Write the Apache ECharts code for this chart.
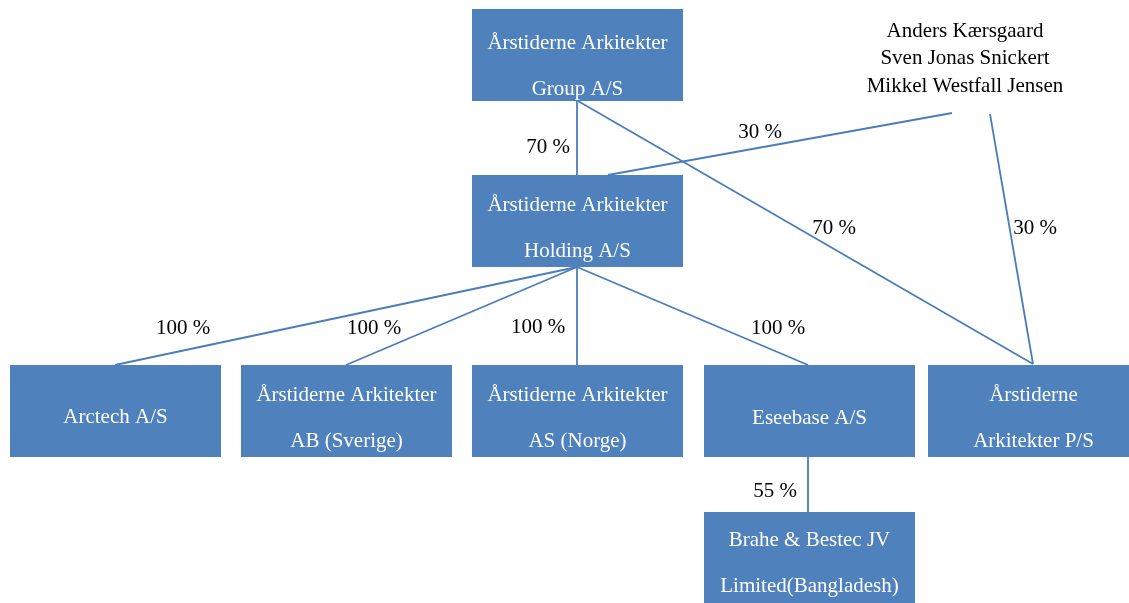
<!DOCTYPE html>
<html lang="da">
<head>
    <meta charset="UTF-8">
    <title>Årstiderne Arkitekter - koncernstruktur</title>
    <script src="https://cdn.jsdelivr.net/npm/echarts@6/dist/echarts.min.js"></script>
    <style>
        html, body { margin: 0; padding: 0; background: #fff; }
        #chart { width: 1129px; height: 603px; }
    </style>
</head>
<body>
<div id="chart"></div>
<script>
    // selskaber (en række pr. linje i boksen)
    const unitNames = [
        ['Årstiderne Arkitekter', 'Group A/S'],
        ['Årstiderne Arkitekter', 'Holding A/S'],
        ['Arctech A/S'],
        ['Årstiderne Arkitekter', 'AB (Sverige)'],
        ['Årstiderne Arkitekter', 'AS (Norge)'],
        ['Eseebase A/S'],
        ['Årstiderne', 'Arkitekter P/S'],
        ['Brahe & Bestec JV', 'Limited(Bangladesh)']
    ];
    const ownerNames = ['Anders Kærsgaard', 'Sven Jonas Snickert', 'Mikkel Westfall Jensen'];

    // ejerandele
    const stakeFrom = ['Group', 'Group', 'Owners', 'Owners', 'Holding', 'Holding', 'Holding', 'Holding', 'Eseebase'];
    const stakeTo = ['Holding', 'P/S', 'Holding', 'P/S', 'Arctech', 'AB', 'AS', 'Eseebase', 'Brahe'];
    const stakeLabels = ['70 %', '70 %', '30 %', '30 %', '100 %', '100 %', '100 %', '100 %', '55 %'];

    // layout (pixel-koordinater i det skjulte koordinatsystem)
    const boxW = 211, boxH = 92, lineGap = 46;
    const boxCx = [577.5, 577.5, 115.5, 346.5, 577.5, 809.5, 1033.5, 809.5];
    const boxCy = [55, 221, 411, 411, 411, 411, 411, 558];
    const textTop = [43, 205, 417, 395, 395, 418, 395, 540];
    const linkPts = [
        [[577, 101], [577, 175]],
        [[578, 101], [1033, 364]],
        [[952, 113], [608, 175]],
        [[990, 114], [1033, 364]],
        [[577, 267], [115, 365]],
        [[577, 267], [346, 365]],
        [[577, 267], [577, 365]],
        [[577, 267], [808, 365]],
        [[808, 457], [808, 512]]
    ];
    const labelPos = [[548, 147], [834, 228], [760, 132], [1035, 228], [183, 328], [374, 328], [538, 327], [778, 328], [775, 491]];
    const ownerX = 965, ownerY = [31, 58, 86];

    const font = '21px "Liberation Serif", "DejaVu Serif", serif';
    const blue = '#4f81bd';

    const chart = echarts.init(document.getElementById('chart'));

    const option = {
        animation: false,
        grid: { left: 0, right: 0, top: 0, bottom: 0 },
        xAxis: { type: 'value', min: 0, max: 1129, show: false },
        yAxis: { type: 'value', min: 0, max: 603, inverse: true, show: false },
        series: [
            {
                // forbindelseslinjer + procentsatser
                type: 'custom',
                coordinateSystem: 'cartesian2d',
                data: stakeLabels.map((t, i) => [labelPos[i][0], labelPos[i][1], i]),
                renderItem: function (params, api) {
                    const i = api.value(2);
                    const a = api.coord(linkPts[i][0]);
                    const b = api.coord(linkPts[i][1]);
                    const l = api.coord([api.value(0), api.value(1)]);
                    return {
                        type: 'group',
                        children: [
                            {
                                type: 'line',
                                shape: { x1: a[0], y1: a[1], x2: b[0], y2: b[1] },
                                style: { stroke: '#4a7ebb', lineWidth: 1.8 }
                            },
                            {
                                type: 'text',
                                style: {
                                    text: stakeLabels[i], x: l[0], y: l[1],
                                    fill: '#000', font: font,
                                    align: 'center', verticalAlign: 'middle'
                                }
                            }
                        ]
                    };
                }
            },
            {
                // selskabsbokse
                type: 'custom',
                coordinateSystem: 'cartesian2d',
                data: unitNames.map((n, i) => [boxCx[i], boxCy[i], i]),
                renderItem: function (params, api) {
                    const i = api.value(2);
                    const cx = api.value(0), cy = api.value(1);
                    const p0 = api.coord([cx - boxW / 2, cy - boxH / 2]);
                    const p1 = api.coord([cx + boxW / 2, cy + boxH / 2]);
                    const children = [{
                        type: 'rect',
                        shape: { x: p0[0], y: p0[1], width: p1[0] - p0[0], height: p1[1] - p0[1] },
                        style: { fill: blue }
                    }];
                    unitNames[i].forEach(function (line, k) {
                        const p = api.coord([cx, textTop[i] + k * lineGap]);
                        children.push({
                            type: 'text',
                            style: {
                                text: line, x: p[0], y: p[1],
                                fill: '#fff', font: font,
                                align: 'center', verticalAlign: 'middle'
                            }
                        });
                    });
                    return { type: 'group', children: children };
                }
            },
            {
                // ejere
                type: 'custom',
                coordinateSystem: 'cartesian2d',
                data: ownerNames.map((n, i) => [ownerX, ownerY[i], i]),
                renderItem: function (params, api) {
                    const p = api.coord([api.value(0), api.value(1)]);
                    return {
                        type: 'text',
                        style: {
                            text: ownerNames[api.value(2)], x: p[0], y: p[1],
                            fill: '#000', font: font,
                            align: 'center', verticalAlign: 'middle'
                        }
                    };
                }
            }
        ]
    };

    chart.setOption(option);
</script>
</body>
</html>
